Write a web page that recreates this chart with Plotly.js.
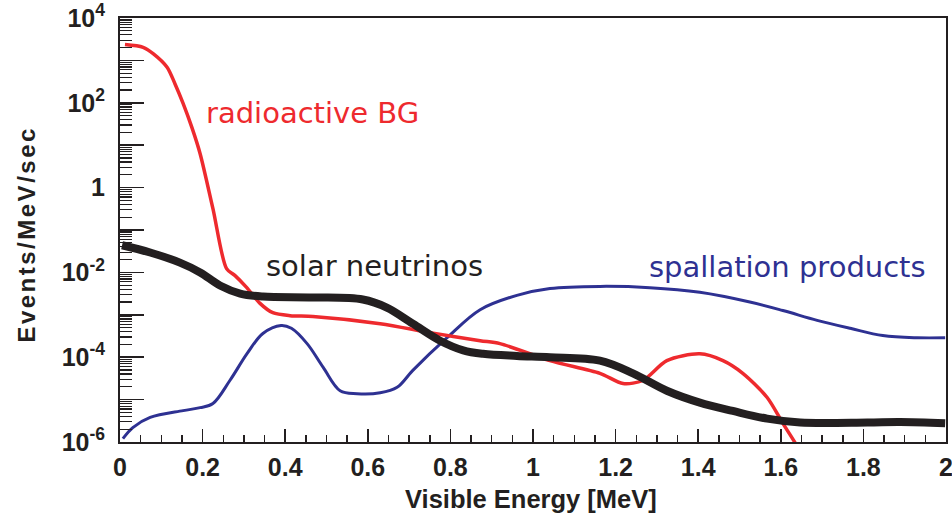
<!DOCTYPE html>
<html><head><meta charset="utf-8">
<script src="https://cdn.plot.ly/plotly-3.0.1.min.js"></script>
<style>
html,body{margin:0;padding:0;background:#fff;}
#chart{width:952px;height:514px;}
g.annotation[data-index="0"] text{letter-spacing:2.5px;}
</style></head><body><div id="chart"></div>
<script>
// Visible energy [MeV] and rates [events/MeV/sec]
const radioEnergy = [0.012,0.056,0.081,0.114,0.133,0.153,0.174,0.194,0.225,0.258,0.278,0.307,0.339,0.370,0.412,0.467,0.630,0.751,0.872,0.920,1.041,1.162,1.218,1.266,1.324,1.404,1.460,1.508,1.567,1.605,1.634,1.645];
const radioRate   = [2370,2040,1430,692,282,95.5,26.3,6.31,0.32,0.0123,0.0085,0.00437,0.00186,0.00112,9.55e-4,9.12e-4,6.17e-4,3.80e-4,2.45e-4,2.09e-4,8.3e-5,4.17e-5,2.40e-5,2.82e-5,8.3e-5,1.2e-4,8.3e-5,4.17e-5,1.12e-5,2.75e-6,9.8e-7,6e-7];

const solarEnergy = [0.005,0.073,0.145,0.194,0.242,0.291,0.346,0.467,0.588,0.646,0.709,0.775,0.831,0.879,0.961,1.041,1.162,1.242,1.324,1.404,1.484,1.567,1.647,1.810,1.889,1.998];
const solarRate   = [0.0437,0.0295,0.0170,0.0100,0.0049,0.00316,0.00269,0.00257,0.00229,0.00148,6.17e-4,2.45e-4,1.45e-4,1.20e-4,1.07e-4,1.0e-4,8.3e-5,4.17e-5,1.62e-5,8.5e-6,5.4e-6,3.55e-6,2.88e-6,2.88e-6,2.95e-6,2.75e-6];

const spallEnergy = [0.007,0.031,0.073,0.153,0.194,0.225,0.266,0.308,0.346,0.390,0.415,0.453,0.492,0.533,0.574,0.630,0.671,0.709,0.792,0.872,0.961,1.041,1.162,1.283,1.404,1.525,1.605,1.688,1.768,1.847,1.930,1.998];
const spallRate   = [1.2e-6,2.19e-6,3.8e-6,5.5e-6,6.46e-6,8.1e-6,2.82e-5,1.23e-4,3.63e-4,5.6e-4,4.8e-4,2.09e-4,5.75e-5,1.62e-5,1.38e-5,1.45e-5,1.95e-5,4.9e-5,2.88e-4,1.32e-3,2.88e-3,4.17e-3,4.68e-3,4.37e-3,3.39e-3,2.0e-3,1.26e-3,7.4e-4,4.8e-4,3.24e-4,2.88e-4,2.88e-4];

const xTickVals = [0,0.2,0.4,0.6,0.8,1,1.2,1.4,1.6,1.8,2];
const xTickText = ["0","0.2","0.4","0.6","0.8","1","1.2","1.4","1.6","1.8","2"];
const yTickVals = [1e-6,1e-4,1e-2,1,100,10000];
const yTickText = ["10<sup>-6</sup>","10<sup>-4</sup>","10<sup>-2</sup>","1","10<sup>2</sup>","10<sup>4</sup>"];
const yUnlabeledDecades = [1e-5,1e-3,1e-1,10,1000];

const seriesNames = ["radioactive BG","solar neutrinos","spallation products"];
const xTitle = "Visible Energy [MeV]";
const yTitle = "Events/MeV/sec";

const RED = "#ee2a2e", BLUE = "#2e3192", BLACK = "#231f20";
const AX = "#231f20";

const traces = [
  {x: spallEnergy, y: spallRate, mode:"lines", name: seriesNames[2], line:{color:BLUE, width:3, shape:"spline", smoothing:1}},
  {x: radioEnergy, y: radioRate, mode:"lines", name: seriesNames[0], line:{color:RED, width:3.5, shape:"spline", smoothing:0.8}},
  {x: solarEnergy, y: solarRate, mode:"lines", name: seriesNames[1], line:{color:BLACK, width:8, shape:"spline", smoothing:1}},
  {x:[], y:[], yaxis:"y2", mode:"lines", showlegend:false, hoverinfo:"skip"}
];

const tickFont = {family:"Liberation Sans, Arial, sans-serif", size:25, weight:700, color:AX};
const labelFont = {family:"DejaVu Sans, sans-serif", size:29};

const layout = {
  width:952, height:514,
  margin:{l:120, r:6, t:18, b:72},
  paper_bgcolor:"#fff", plot_bgcolor:"#fff",
  showlegend:false,
  xaxis:{
    range:[0,2], tickmode:"array", tickvals:xTickVals, ticktext:xTickText,
    ticks:"inside", ticklen:13, tickwidth:1.5, tickcolor:AX,
    minor:{ticks:"inside", ticklen:7, tickwidth:1.5, tickcolor:AX, tickmode:"linear", tick0:0, dtick:0.05},
    showline:true, linewidth:2, linecolor:AX, mirror:true,
    showgrid:false, zeroline:false, tickfont:tickFont, ticklabelstandoff:2,
    ticklabeloverflow:"allow"
  },
  yaxis:{
    type:"log", range:[-6,4], tickmode:"array", tickvals:yTickVals, ticktext:yTickText,
    ticks:"inside", ticklen:24, tickwidth:1.5, tickcolor:AX,
    minor:{ticks:"inside", ticklen:12, tickwidth:1.2, tickcolor:AX, dtick:"D1"},
    showline:true, linewidth:2, linecolor:AX, mirror:true,
    showgrid:false, zeroline:false, tickfont:tickFont, ticklabelstandoff:8
  },
  yaxis2:{
    type:"log", range:[-6,4], overlaying:"y", side:"left", tickmode:"array", tickvals:yUnlabeledDecades,
    ticks:"inside", ticklen:24, tickwidth:1.5, tickcolor:AX, showticklabels:false,
    showline:false, showgrid:false, zeroline:false
  },
  annotations:[
    {text:yTitle, xref:"paper", yref:"paper", x:-0.1138, y:0.488, xanchor:"center", yanchor:"middle", textangle:-90, showarrow:false,
     font:{family:"Liberation Sans, Arial, sans-serif", size:24, weight:700, color:AX}},
    {text:xTitle, xref:"paper", yref:"paper", x:0.4976, y:-0.135, xanchor:"center", yanchor:"middle", showarrow:false,
     font:{family:"Liberation Sans, Arial, sans-serif", size:25.5, weight:700, color:AX}},
    {text:seriesNames[0], xref:"x", yref:"y", x:0.465, y:1.75, xanchor:"center", yanchor:"middle", showarrow:false,
     font:Object.assign({}, labelFont, {color:RED})},
    {text:seriesNames[1], xref:"x", yref:"y", x:0.615, y:-1.84, xanchor:"center", yanchor:"middle", showarrow:false,
     font:Object.assign({}, labelFont, {color:BLACK})},
    {text:seriesNames[2], xref:"x", yref:"y", x:1.615, y:-1.88, xanchor:"center", yanchor:"middle", showarrow:false,
     font:Object.assign({}, labelFont, {color:BLUE})}
  ]
};

Plotly.newPlot("chart", traces, layout, {staticPlot:true, displayModeBar:false});
</script></body></html>
